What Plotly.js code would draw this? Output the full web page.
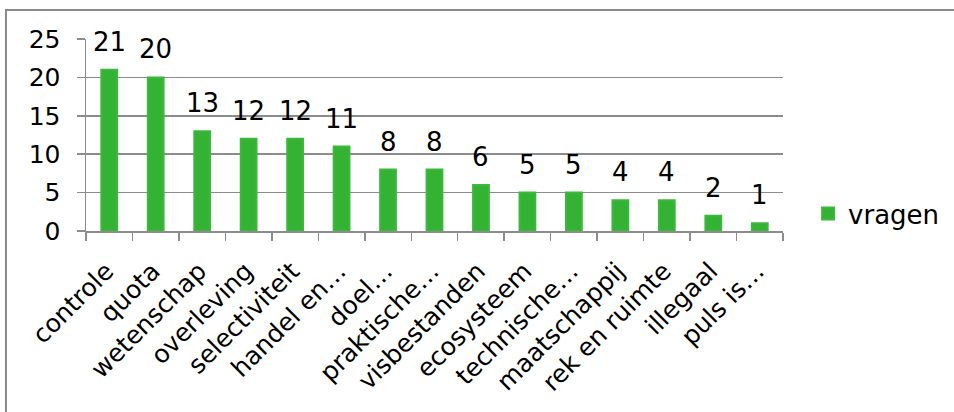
<!DOCTYPE html>
<html>
<head>
<meta charset="utf-8">
<script src="https://cdn.plot.ly/plotly-3.0.1.min.js"></script>
<style>
html,body{margin:0;padding:0;background:#fff;}
#chart{width:954px;height:412px;}
</style>
</head>
<body>
<div id="chart"></div>
<script>
var categories = ["controle","quota","wetenschap","overleving","selectiviteit","handel en…","doel…","praktische…","visbestanden","ecosysteem","technische…","maatschappij","rek en ruimte","illegaal","puls is…"];
var vragen = [21,20,13,12,12,11,8,8,6,5,5,4,4,2,1];
var seriesName = "vragen";
var yTicks = [0,5,10,15,20,25];

var FONT = "DejaVu Sans, Verdana, sans-serif";
var FS = 25;
var GREEN = "#33b233";
var GRID = "#8c8c8c";

var trace = {
  type: "bar",
  x: categories,
  y: vragen,
  name: seriesName,
  marker: {color: GREEN, line: {color: "#3cb83c", width: 2}},
  showlegend: true,
  hoverinfo: "none"
};

var annotations = categories.map(function(c, i){
  return {
    x: c, y: vragen[i], xref: "x", yref: "y",
    text: String(vragen[i]),
    showarrow: false, yanchor: "bottom", yshift: 11,
    font: {family: FONT, size: FS + 1, color: "#000"}
  };
});

var layout = {
  width: 954, height: 412,
  margin: {l: 86, r: 171, t: 39, b: 181, autoexpand: false},
  paper_bgcolor: "#fff", plot_bgcolor: "#fff",
  bargap: 0.66,
  font: {family: FONT, size: FS, color: "#000"},
  xaxis: {
    type: "category",
    tickangle: -45,
    tickson: "boundaries",
    ticks: "outside", ticklen: 8, tickcolor: GRID, tickwidth: 1.5,
    showline: true, linecolor: GRID, linewidth: 1.5,
    showgrid: false, zeroline: false,
    automargin: false,
    ticklabelstandoff: 14,
    ticklabelshift: -3,
    tickfont: {family: FONT, size: FS, color: "#000"}
  },
  yaxis: {
    range: [0, 25],
    tickvals: yTicks,
    ticks: "outside", ticklen: 8, tickcolor: GRID, tickwidth: 1.5,
    showline: true, linecolor: GRID, linewidth: 1.5,
    showgrid: true, gridcolor: GRID, gridwidth: 1.5,
    zeroline: false,
    automargin: false,
    ticklabelstandoff: 11,
    tickfont: {family: FONT, size: FS, color: "#000"}
  },
  legend: {
    x: 1.036, xanchor: "left", y: 0.09, yanchor: "middle",
    itemwidth: 30,
    font: {family: FONT, size: FS + 1, color: "#000"},
    bgcolor: "rgba(0,0,0,0)"
  },
  annotations: annotations,
  shapes: [{
    type: "rect", xref: "paper", yref: "paper",
    x0: -0.1148, x1: 1.26, y0: -1.0, y1: 1.151,
    line: {color: "#8a8a8a", width: 2}, fillcolor: "rgba(0,0,0,0)", layer: "below"
  }]
};

Plotly.newPlot("chart", [trace], layout, {displayModeBar: false, staticPlot: true});
</script>
</body>
</html>
